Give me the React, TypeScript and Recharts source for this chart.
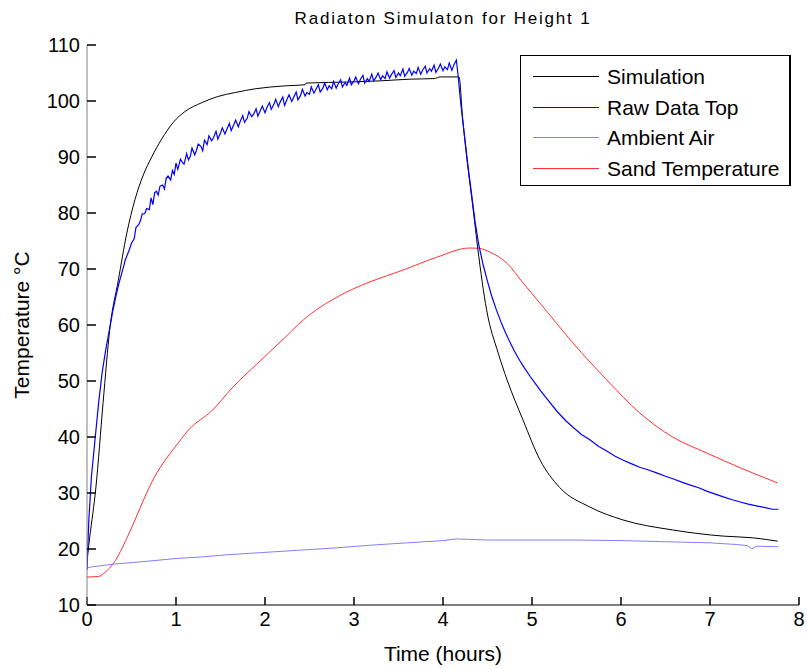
import React from 'react';
import { LineChart, Line, XAxis, YAxis } from 'recharts';

const xTicks = [0, 1, 2, 3, 4, 5, 6, 7, 8];
const yTicks = [10, 20, 30, 40, 50, 60, 70, 80, 90, 100, 110];

const simT = [0, 0.03, 0.1, 0.18, 0.258, 0.352, 0.446, 0.539, 0.633, 0.727, 0.839, 0.97, 1.1, 1.29, 1.47, 1.66, 1.9, 2.22, 2.45, 2.46, 2.96, 3.3, 3.63, 3.9, 3.97, 4.18, 4.22, 4.27, 4.34, 4.39, 4.49, 4.62, 4.72, 4.9, 5.09, 5.31, 5.65, 6.02, 6.58, 7.15, 7.48, 7.76];
const simV = [18, 22, 31, 46, 59.5, 68, 76.3, 82.4, 86.8, 90.0, 93.2, 96.2, 98.1, 99.7, 100.8, 101.5, 102.2, 102.7, 102.9, 103.2, 103.4, 103.6, 103.9, 104.0, 104.3, 104.3, 97, 89.5, 80.5, 73.75, 62.7, 55, 50.2, 43, 35.9, 31, 27.5, 25.2, 23.4, 22.3, 22, 21.4];

// [time (h), temperature]
const rawPoints: [number, number][] = [
  [0, 16.3], [0.02, 25], [0.05, 33], [0.09, 39.5], [0.13, 46], [0.17, 51.5], [0.21, 55.5], [0.25, 59], [0.29, 62.5], [0.33, 65.5],
  [0.36, 67.5], [0.4, 69.8], [0.43, 71.6], [0.47, 73.2], [0.5, 74.6], [0.53, 75.4], [0.55, 77.4], [0.58, 77.9], [0.6, 78.6], [0.62, 79.8],
  [0.65, 79.9], [0.67, 80.8], [0.7, 80.6], [0.72, 82.7], [0.74, 81.5], [0.76, 83.6], [0.78, 83.9], [0.8, 83.2], [0.82, 84.8], [0.85, 85.0],
  [0.87, 84.3], [0.89, 86.2], [0.91, 86.6], [0.94, 85.9], [0.96, 87.6], [0.98, 86.9],
  [1.0, 88.9], [1.02, 87.8], [1.05, 89.6], [1.07, 89.1], [1.09, 88.7], [1.12, 90.6], [1.14, 89.5], [1.16, 90.1], [1.18, 91.6], [1.21, 90.4],
  [1.23, 91.2], [1.25, 92.3], [1.28, 91.9], [1.3, 91.1], [1.32, 93.0], [1.35, 92.2], [1.37, 93.8], [1.4, 92.9], [1.42, 93.4], [1.45, 94.6],
  [1.47, 93.2], [1.5, 94.3], [1.52, 95.2], [1.55, 94.1], [1.57, 94.9], [1.6, 96.0], [1.62, 94.7], [1.65, 95.8], [1.67, 96.6], [1.7, 95.4],
  [1.72, 96.3], [1.75, 97.4], [1.77, 96.2], [1.8, 96.9], [1.82, 98.1], [1.85, 97.2], [1.87, 97.6], [1.9, 98.6], [1.92, 97.3], [1.95, 98.4],
  [1.97, 99.1], [2.0, 97.9], [2.02, 98.8], [2.05, 99.7], [2.07, 98.5], [2.1, 99.4], [2.12, 100.3], [2.15, 99.0], [2.17, 99.8], [2.2, 100.7],
  [2.22, 99.2], [2.25, 100.4], [2.27, 101.1], [2.3, 99.9], [2.32, 100.6], [2.35, 101.6], [2.37, 100.2], [2.4, 101.0], [2.42, 102.1], [2.45, 100.9],
  [2.47, 101.5], [2.5, 101.2], [2.52, 102.5], [2.55, 101.4], [2.57, 102.0], [2.6, 102.9], [2.62, 101.6], [2.65, 102.3], [2.67, 103.2], [2.7, 102.0],
  [2.72, 102.7], [2.75, 102.2], [2.77, 103.5], [2.8, 102.3], [2.82, 103.0], [2.85, 103.8], [2.87, 102.5], [2.9, 103.3], [2.92, 102.8], [2.95, 104.1],
  [2.97, 102.9], [3.0, 103.6], [3.02, 104.3], [3.05, 103.1], [3.07, 103.8], [3.1, 104.6], [3.12, 103.2], [3.15, 104.0], [3.17, 103.5], [3.2, 104.8],
  [3.22, 103.6], [3.25, 104.3], [3.27, 105.0], [3.3, 103.8], [3.32, 104.5], [3.35, 104.0], [3.37, 105.2], [3.4, 104.1], [3.42, 104.7], [3.45, 105.4],
  [3.47, 104.2], [3.5, 105.0], [3.52, 104.5], [3.55, 105.7], [3.57, 104.4], [3.6, 105.1], [3.62, 105.8], [3.65, 104.6], [3.67, 105.3], [3.7, 104.9],
  [3.72, 106.0], [3.75, 104.8], [3.77, 105.5], [3.8, 106.2], [3.82, 105.0], [3.85, 105.8], [3.87, 105.3], [3.9, 106.4], [3.92, 105.1], [3.95, 105.9],
  [3.97, 106.6], [4.0, 105.4], [4.02, 106.1], [4.05, 105.6], [4.07, 106.8], [4.1, 105.5], [4.12, 106.4], [4.14, 107.0], [4.15, 107.3],
  [4.17, 104.5], [4.2, 99.5], [4.24, 94], [4.28, 88.5], [4.32, 83.5], [4.36, 78.5], [4.4, 74.5], [4.45, 70.8], [4.5, 67.8], [4.55, 65.0],
  [4.6, 62.7], [4.65, 60.6], [4.7, 58.7], [4.75, 57.0], [4.8, 55.4], [4.86, 53.7], [4.92, 52.2], [4.98, 50.8], [5.04, 49.5], [5.1, 48.2],
  [5.18, 46.6], [5.28, 44.6], [5.38, 42.9], [5.47, 41.6], [5.56, 40.4], [5.65, 39.5], [5.75, 38.3], [5.84, 37.5], [5.93, 36.6], [6.02, 35.9],
  [6.12, 35.2], [6.21, 34.6], [6.31, 34.1], [6.4, 33.6], [6.5, 33.0], [6.59, 32.5], [6.69, 31.9], [6.78, 31.4], [6.88, 30.9], [6.97, 30.3],
  [7.06, 29.8], [7.15, 29.3], [7.25, 28.8], [7.34, 28.4], [7.43, 28.0], [7.52, 27.7], [7.62, 27.4], [7.7, 27.1], [7.77, 27.1],
];

const airT = [0, 0.05, 0.3, 0.6, 1.0, 1.3, 1.6, 2.0, 2.4, 2.8, 3.2, 3.6, 4.0, 4.15, 4.5, 5.0, 5.5, 6.0, 6.5, 7.0, 7.3, 7.42, 7.47, 7.52, 7.77];
const airV = [16.6, 16.8, 17.3, 17.7, 18.3, 18.6, 19.0, 19.4, 19.8, 20.2, 20.7, 21.1, 21.5, 21.8, 21.6, 21.6, 21.6, 21.5, 21.3, 21.1, 20.8, 20.6, 20.0, 20.5, 20.4];

const sandT = [0, 0.13, 0.2, 0.3, 0.45, 0.54, 0.65, 0.76, 0.88, 0.99, 1.14, 1.41, 1.63, 1.92, 2.22, 2.43, 2.81, 3.18, 3.55, 3.93, 4.3, 4.4, 4.53, 4.72, 4.9, 5.09, 5.46, 5.84, 6.21, 6.58, 6.97, 7.34, 7.76];
const sandV = [15, 15.1, 15.8, 17.5, 22, 25.2, 29.3, 32.9, 35.9, 38.2, 41.25, 44.8, 48.75, 53.2, 57.7, 60.9, 65, 67.7, 69.8, 72.1, 73.75, 73.7, 73, 71, 67.5, 63.9, 56.8, 50.2, 44.3, 40, 37.1, 34.5, 31.8];

const seriesNames = ['Simulation', 'Raw Data Top', 'Ambient Air', 'Sand Temperature'];
const seriesColors = ['#000000', '#0000ff', '#7f7fff', '#ff3030'];

const zip = (t: number[], v: number[]) => t.map((x, i) => ({ t: x, v: v[i] }));
const simData = zip(simT, simV);
const rawData = rawPoints.map(([t, v]) => ({ t, v }));
const airData = zip(airT, airV);
const sandData = zip(sandT, sandV);

const FONT = '"Liberation Sans", Arial, sans-serif';
const emptyTick = () => <g />;

export default function App() {
  return (
    <div style={{ position: 'absolute', left: 0, top: 0, width: 807, height: 669, background: '#fff', fontFamily: FONT }}>
      <LineChart width={807} height={669} margin={{ top: 45, right: 8, bottom: 0, left: 0 }}>
        <XAxis
          dataKey="t"
          type="number"
          domain={[0, 8]}
          ticks={xTicks}
          allowDataOverflow
          height={64}
          tickSize={0}
          tickMargin={7}
          tickLine={false}
          tick={{ fill: '#000', fontSize: 20, fontFamily: FONT }}
          axisLine={{ stroke: '#000' }}
        />
        <XAxis
          xAxisId="inner"
          dataKey="t"
          type="number"
          orientation="bottom"
          mirror
          domain={[0, 8]}
          ticks={xTicks}
          allowDataOverflow
          height={10}
          tickSize={8}
          tick={emptyTick}
          tickLine={{ stroke: '#000', strokeWidth: 1.5 }}
          axisLine={false}
        />
        <YAxis
          dataKey="v"
          type="number"
          domain={[10, 110]}
          ticks={yTicks}
          allowDataOverflow
          width={87}
          tickSize={0}
          tickMargin={7}
          tickLine={false}
          tick={{ fill: '#000', fontSize: 20, fontFamily: FONT }}
          axisLine={{ stroke: '#808080' }}
        />
        <YAxis
          yAxisId="inner"
          dataKey="v"
          type="number"
          orientation="left"
          mirror
          domain={[10, 110]}
          ticks={yTicks}
          allowDataOverflow
          width={10}
          tickSize={9}
          tick={emptyTick}
          tickLine={{ stroke: '#000', strokeWidth: 1.5 }}
          axisLine={false}
        />
        <Line data={sandData} dataKey="v" name={seriesNames[3]} stroke={seriesColors[3]} strokeWidth={1} dot={false} type="monotone" isAnimationActive={false} />
        <Line data={airData} dataKey="v" name={seriesNames[2]} stroke={seriesColors[2]} strokeWidth={1} dot={false} type="linear" isAnimationActive={false} />
        <Line data={simData} dataKey="v" name={seriesNames[0]} stroke={seriesColors[0]} strokeWidth={1} dot={false} type="monotone" isAnimationActive={false} />
        <Line data={rawData} dataKey="v" name={seriesNames[1]} stroke={seriesColors[1]} strokeWidth={1.2} dot={false} type="linear" isAnimationActive={false} />
      </LineChart>
      <div style={{ position: 'absolute', left: 0, width: 886, top: 9, textAlign: 'center', fontSize: 17, letterSpacing: 1.8, color: '#000' }}>
        Radiaton Simulaton for Height 1
      </div>
      <div style={{ position: 'absolute', left: 0, width: 886, top: 642, textAlign: 'center', fontSize: 21, color: '#000' }}>
        Time (hours)
      </div>
      <div style={{ position: 'absolute', left: 22, top: 325, width: 0, height: 0 }}>
        <div style={{ position: 'absolute', left: -100, top: -12, width: 200, textAlign: 'center', fontSize: 21, transform: 'rotate(-90deg)', whiteSpace: 'nowrap', lineHeight: '24px' }}>
          Temperature °C
        </div>
      </div>
      <div style={{ position: 'absolute', left: 520, top: 55, width: 268, height: 129, border: '1px solid #000', borderRightWidth: 2, background: '#fff' }}>
        {seriesNames.map((n, i) => (
          <div key={n} style={{ position: 'absolute', left: 0, top: 6 + i * 30.5, height: 30, width: 268 }}>
            <svg width={70} height={30} style={{ position: 'absolute', left: 12, top: 0 }}>
              <line x1={0} x2={66} y1={14.5} y2={14.5} stroke={seriesColors[i]} strokeWidth={1.2} />
            </svg>
            <div style={{ position: 'absolute', left: 86, top: 3, fontSize: 21, lineHeight: '24px', color: '#000', whiteSpace: 'nowrap' }}>{n}</div>
          </div>
        ))}
      </div>
    </div>
  );
}
